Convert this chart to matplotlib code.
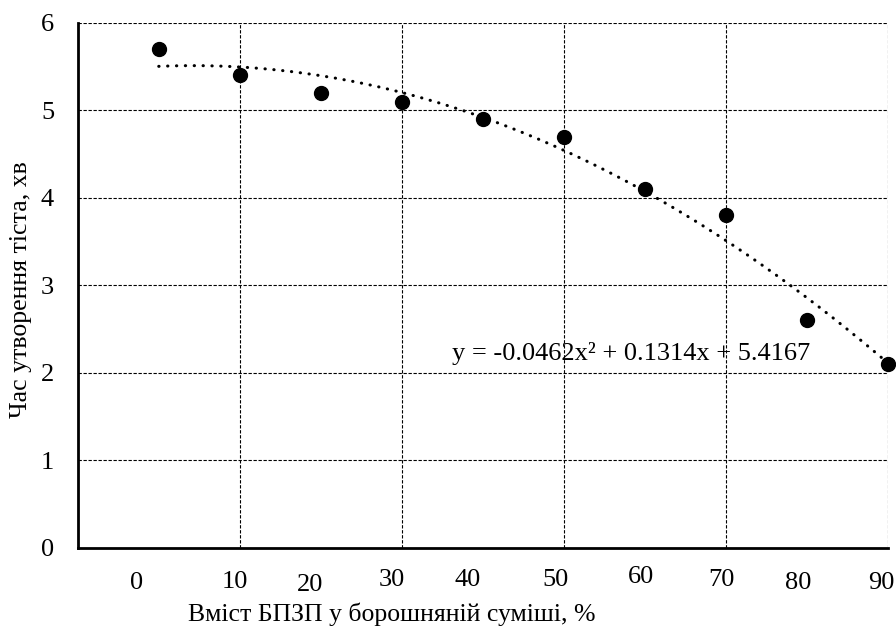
import numpy as np
import matplotlib
matplotlib.use('Agg')
import matplotlib.pyplot as plt
import matplotlib.transforms as mtransforms

plt.rcParams['font.family'] = ['Liberation Serif', 'DejaVu Serif']

# data: sample index (1..10) vs dough formation time
x_idx = [1, 2, 3, 4, 5, 6, 7, 8, 9, 10]
time_min = [5.7, 5.4, 5.2, 5.1, 4.9, 4.7, 4.1, 3.8, 2.6, 2.1]
content_labels = ['0', '10', '20', '30', '40', '50', '60', '70', '80', '90']

# hand placed label positions (as in the original)
label_x = [0.73, 1.94, 2.87, 3.87, 4.81, 5.89, 6.95, 7.94, 8.89, 9.92]
label_y = [-0.067, -0.064, -0.070, -0.061, -0.061, -0.061, -0.055, -0.061, -0.067, -0.067]

FS = 19

fig = plt.figure(figsize=(8.96, 6.33), dpi=100)
ax = fig.add_axes([0.0867, 0.1343, 0.9047, 0.8298])

ax.set_xlim(0, 10)
ax.set_ylim(0, 6)
ax.set_xticks([2, 4, 6, 8, 10])
ax.set_yticks(range(0, 7))
ax.set_xticklabels([])
ax.tick_params(axis='both', length=0, labelsize=FS)
ax.tick_params(axis='y', pad=17)
ax.grid(True, color='black', linestyle=(0, (3, 1.5)), linewidth=0.8)
ax.set_axisbelow(True)

for s in ['top', 'right']:
    ax.spines[s].set_visible(False)
for s in ['left', 'bottom']:
    ax.spines[s].set_linewidth(2)

# polynomial trendline (order 2)
coef = np.polyfit(x_idx, time_min, 2)
xs = np.linspace(min(x_idx), max(x_idx), 200)
ax.plot(xs, np.polyval(coef, xs), color='black', lw=2.2,
        linestyle=(0, (0.1, 2.8)), dash_capstyle='round', zorder=3)

ax.plot(x_idx, time_min, 'o', color='black', markersize=10, zorder=4, clip_on=False)

ax.text(4.62, 2.22, 'y = -0.0462x² + 0.1314x + 5.4167', fontsize=FS,
        ha='left', va='center')

trans = mtransforms.blended_transform_factory(ax.transData, ax.transAxes)
for lx, ly, lb in zip(label_x, label_y, content_labels):
    ax.text(lx, ly, lb, transform=trans, ha='center', va='center', fontsize=FS)

fig.text(392 / 896, 1 - 614 / 633, 'Вміст БПЗП у борошняній суміші, %',
         ha='center', va='center', fontsize=18.5)
fig.text(21 / 896, 1 - 290 / 633, 'Час утворення тіста, хв',
         ha='center', va='center', rotation=90, fontsize=18.5)

fig.savefig('out.png', dpi=100)
